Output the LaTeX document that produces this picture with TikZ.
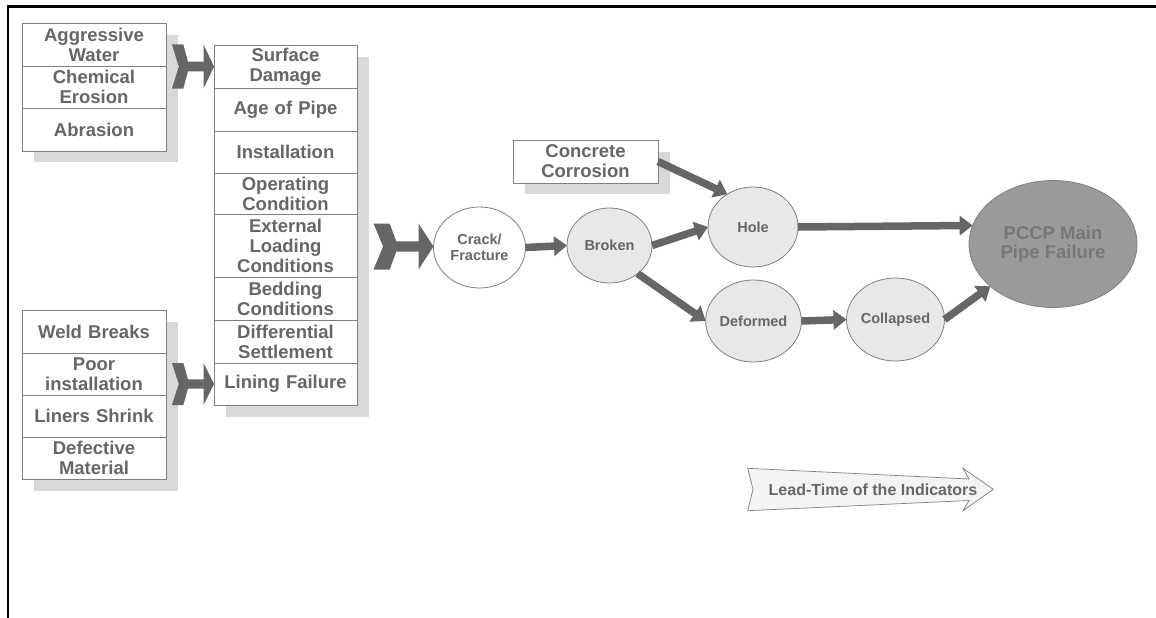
\documentclass[tikz,border=0pt]{standalone}
\usepackage{fontspec}
\setmainfont{Liberation Sans}
\usetikzlibrary{shapes.geometric,arrows.meta}
\definecolor{ink}{HTML}{666666}
\definecolor{rim}{HTML}{7F7F7F}
\definecolor{shade}{HTML}{D9D9D9}
\definecolor{bubble}{HTML}{E8E8E8}
\definecolor{goal}{HTML}{9A9A9A}
\definecolor{goaltext}{HTML}{777777}
\definecolor{band}{HTML}{F4F4F4}
\newcommand{\boxfont}{\fontsize{18.5}{20}\selectfont\bfseries}
\newcommand{\ovalfont}{\fontsize{14.5}{16}\selectfont\bfseries}
\tikzset{
  cell/.style={draw=rim, fill=white, line width=0.8pt, inner sep=0pt, outer sep=0pt,
    align=center, text=ink, font=\boxfont},
  leftcell/.style={cell, minimum width=144pt, text width=142pt},
  midcell/.style={cell, minimum width=143pt, text width=141pt},
  oval/.style={ellipse, draw=rim, line width=0.8pt, fill=bubble, inner sep=0pt,
    outer sep=0pt, align=center, text=ink, font=\ovalfont},
  fat/.style={draw=ink, line width=7.5pt, -{Triangle[width=19pt,length=13pt]}},
  shadowbox/.style={fill=shade},
  chev/.pic={\fill[ink] (0,-1) -- (0.27,-1) -- (0.38,-0.22) -- (0.75,-0.22) -- (0.75,-1)
    -- (1,0) -- (0.75,1) -- (0.75,0.22) -- (0.38,0.22) -- (0.27,1) -- (0,1) -- (0.16,0) -- cycle;}
}
\begin{document}
\begin{tikzpicture}[x=1pt,y=-1pt]
\useasboundingbox (0,0) rectangle (1156,618);
% frame lines
\draw[line width=2.3pt] (7.8,618) -- (7.8,6.5) -- (1160,6.5);

% shadows behind the box groups
\fill[shadowbox] (34,35) rectangle (178,162);
\fill[shadowbox] (226,57) rectangle (369,417);
\fill[shadowbox] (34,322) rectangle (178,491);
\fill[shadowbox] (525,152) rectangle (670,194);

% upper left group
\node[leftcell, minimum height=43pt, anchor=north] (a1) at (94,23) {Aggressive\\Water};
\node[leftcell, minimum height=42pt, anchor=north] (a2) at (a1.south) {Chemical\\Erosion};
\node[leftcell, minimum height=43pt, anchor=north] (a3) at (a2.south) {Abrasion};

% middle column
\node[midcell, minimum height=43pt, anchor=north] (s1) at (285.5,45) {Surface\\Damage};
\node[midcell, minimum height=43pt, anchor=north] (s2) at (s1.south) {Age of Pipe};
\node[midcell, minimum height=42pt, anchor=north] (s3) at (s2.south) {Installation};
\node[midcell, minimum height=41pt, anchor=north] (s4) at (s3.south) {Operating\\Condition};
\node[midcell, minimum height=63pt, anchor=north] (s5) at (s4.south) {External\\Loading\\Conditions};
\node[midcell, minimum height=43pt, anchor=north] (s6) at (s5.south) {Bedding\\Conditions};
\node[midcell, minimum height=43pt, anchor=north] (s7) at (s6.south) {Differential\\Settlement};
\node[midcell, minimum height=42pt, anchor=north] (s8) at (s7.south) {Lining Failure};

% lower left group
\node[leftcell, minimum height=43pt, anchor=north] (b1) at (94,310) {Weld Breaks};
\node[leftcell, minimum height=42pt, anchor=north] (b2) at (b1.south) {Poor\\installation};
\node[leftcell, minimum height=42pt, anchor=north] (b3) at (b2.south) {Liners Shrink};
\node[leftcell, minimum height=42pt, anchor=north] (b4) at (b3.south) {Defective\\Material};

% concrete corrosion box
\node[cell, minimum width=145pt, minimum height=43pt, text width=142pt] (cc) at (585.5,161.5) {Concrete\\Corrosion};

% failure states
\node[oval, fill=white, minimum width=92pt, minimum height=81pt] (crack) at (479.5,247.5) {Crack/\\Fracture};
\node[oval, minimum width=85pt, minimum height=75pt] (broken) at (609.5,245.5) {Broken};
\node[oval, minimum width=90pt, minimum height=80pt] (hole) at (753,227) {Hole};
\node[oval, minimum width=93pt, minimum height=82pt] (deformed) at (753.5,321) {Deformed};
\node[oval, minimum width=93pt, minimum height=83pt] (collapsed) at (895.5,319.5) {Collapsed};
\node[oval, fill=goal, text=goaltext, font=\fontsize{18.5}{19.5}\selectfont\bfseries,
  minimum width=168pt, minimum height=127pt] (pccp) at (1053,244) {PCCP Main\\Pipe Failure};

% fletched arrows feeding the columns
\path (s1.west) ++(-42,0) coordinate (c1);
\path (s8.west) ++(-42,0) coordinate (c2);
\path (crack.west) ++(-60,-1) coordinate (c3);
\pic[xscale=42, yscale=22] at (c1) {chev};
\pic[xscale=42, yscale=21] at (c2) {chev};
\pic[xscale=60, yscale=23] at (c3) {chev};

% progression arrows
\draw[fat] (crack.east) -- (broken.west);
\draw[fat] (broken.east) -- (hole.west);
\draw[fat] (broken.-45) -- (deformed.west);
\draw[fat] (cc.east) -- (hole.128);
\draw[fat] (hole.east) -- (pccp.167);
\draw[fat] (deformed.east) -- (collapsed.west);
\draw[fat] (collapsed.east) -- (pccp.214);

% lead-time band
\draw[draw=rim, fill=band, line width=0.7pt] (747.7,468.3) -- (969,479) -- (963,468.3)
  -- (993.3,489.3) -- (963,510.7) -- (969,500.5) -- (747.7,510.7) -- (753,489.3) -- cycle;
\node[text=ink, font=\fontsize{16}{18}\selectfont\bfseries] (lead) at (873,489.5) {Lead-Time of the Indicators};
\end{tikzpicture}
\end{document}
